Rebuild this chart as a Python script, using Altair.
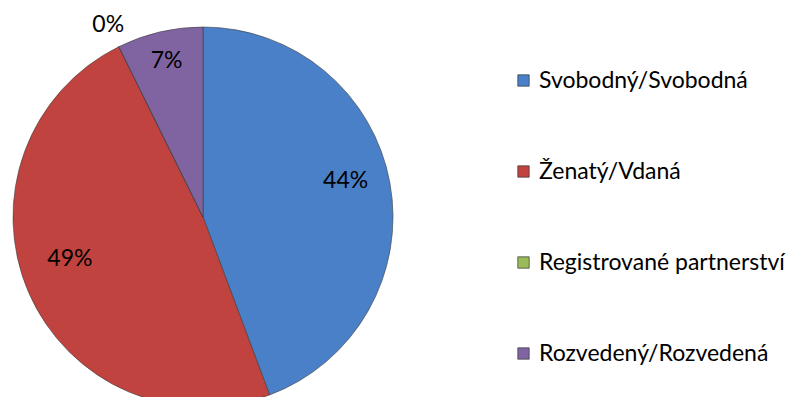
import altair as alt
import pandas as pd

categories = ["Svobodný/Svobodná", "Ženatý/Vdaná", "Registrované partnerství", "Rozvedený/Rozvedená"]
values = [44.3, 48.4, 0.0, 7.3]
labels = ["44%", "49%", "0%", "7%"]
colors = ["#4A80C8", "#C0433F", "#9BBB59", "#8064A2"]

df = pd.DataFrame({"cat": categories, "value": values, "label": labels, "idx": list(range(len(categories)))})

CX, CY, R = 195, 209, 190
FONT = "Lato"

color = alt.Color(
    "cat:N",
    scale=alt.Scale(domain=categories, range=colors),
    sort=categories,
    legend=alt.Legend(
        title=None, orient="none", legendX=504, legendY=61,
        symbolType="square", symbolSize=130, symbolStrokeColor="#333", symbolStrokeWidth=0.7,
        labelFont=FONT, labelFontSize=23, labelColor="#000", labelOffset=4,
        rowPadding=67, padding=0, labelLimit=400,
    ),
)

base = alt.Chart(df)

pie = base.mark_arc(stroke="#3d3d3d", strokeWidth=0.6, radius=R).encode(
    theta=alt.Theta("value:Q", stack=True),
    order=alt.Order("idx:Q"),
    color=color,
    x=alt.value(CX), y=alt.value(CY),
)

def label_layer(cat, radius, dy=0):
    return base.mark_text(radius=radius, font=FONT, fontSize=23, color="#000", dy=dy).encode(
        theta=alt.Theta("value:Q", stack=True),
        order=alt.Order("idx:Q"),
        text=alt.condition(alt.datum.cat == cat, "label:N", alt.value("")),
        x=alt.value(CX), y=alt.value(CY),
    )

chart = alt.layer(
    pie,
    label_layer(categories[0], 145, -10),
    label_layer(categories[1], 145, -16),
    label_layer(categories[2], 214),
    label_layer(categories[3], 160),
).properties(
    width=791, height=389, padding=0,
    autosize=alt.AutoSizeParams(type="none"),
).configure_view(stroke=None)

chart.save("out.html", embed_options={"renderer": "svg", "actions": False})
